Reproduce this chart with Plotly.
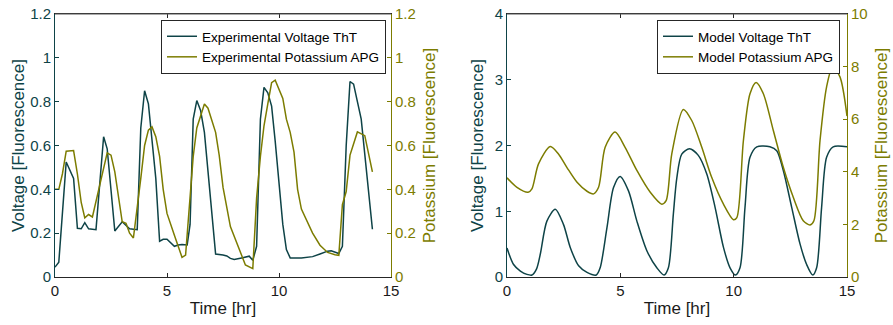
import plotly.graph_objects as go

# ---------------- data ----------------
exp_v_t = [0.0, 0.17, 0.5, 0.67, 0.83, 1.0, 1.17, 1.33, 1.5, 1.83, 2.17, 2.33, 2.67, 3.0, 3.17, 3.33,
           3.67, 3.83, 4.0, 4.17, 4.5, 4.67, 4.83, 5.0, 5.33, 5.5, 5.67, 5.9, 6.03, 6.17, 6.33, 6.5,
           6.67, 6.83, 7.0, 7.17, 7.5, 7.67, 7.83, 8.0, 8.33, 8.67, 8.83, 9.0, 9.17, 9.33, 9.5, 9.67,
           9.83, 10.0, 10.17, 10.33, 10.5, 11.0, 11.5, 11.83, 12.17, 12.33, 12.5, 12.67, 12.83, 13.0,
           13.17, 13.33, 13.5, 13.67, 14.17]
exp_v = [0.045, 0.068, 0.525, 0.49, 0.45, 0.222, 0.22, 0.248, 0.22, 0.216, 0.64, 0.585, 0.21, 0.252, 0.235, 0.22,
         0.216, 0.68, 0.85, 0.79, 0.45, 0.163, 0.172, 0.172, 0.14, 0.146, 0.148, 0.146, 0.24, 0.72, 0.805, 0.76,
         0.66, 0.48, 0.28, 0.105, 0.1, 0.096, 0.085, 0.08, 0.087, 0.095, 0.076, 0.14, 0.72, 0.865, 0.84, 0.78,
         0.62, 0.42, 0.24, 0.125, 0.087, 0.087, 0.093, 0.105, 0.118, 0.12, 0.113, 0.107, 0.14, 0.6,
         0.892, 0.88, 0.8, 0.72, 0.218]

exp_k_t = [0.0, 0.17, 0.33, 0.5, 0.83, 1.0, 1.17, 1.33, 1.5, 1.67, 2.0, 2.33, 2.5, 2.67, 3.0, 3.17, 3.33, 3.5,
           3.83, 4.0, 4.17, 4.33, 4.5, 4.67, 4.83, 5.0, 5.33, 5.67, 5.83, 6.0, 6.17, 6.33, 6.5, 6.67, 6.83,
           7.0, 7.17, 7.33, 7.5, 7.83, 8.17, 8.5, 8.83, 9.0, 9.17, 9.33, 9.5, 9.67, 9.83, 10.17, 10.33,
           10.5, 10.67, 10.83, 11.0, 11.17, 11.5, 11.83, 12.17, 12.5, 12.67, 12.83, 13.0, 13.17, 13.5,
           13.83, 14.17]
exp_k = [0.40, 0.40, 0.47, 0.574, 0.577, 0.47, 0.34, 0.27, 0.285, 0.274, 0.42, 0.566, 0.556, 0.48, 0.252, 0.245, 0.2, 0.178,
         0.45, 0.6, 0.67, 0.685, 0.64, 0.55, 0.40, 0.29, 0.19, 0.09, 0.1, 0.33, 0.55, 0.68, 0.74, 0.789, 0.77,
         0.72, 0.66, 0.556, 0.41, 0.23, 0.145, 0.055, 0.038, 0.36, 0.55, 0.69, 0.79, 0.887, 0.898, 0.815, 0.72,
         0.66, 0.57, 0.40, 0.31, 0.27, 0.2, 0.145, 0.112, 0.102, 0.099, 0.33, 0.39, 0.556, 0.662,
         0.645, 0.48]

mod_v_t = [0.0, 0.29, 0.59, 0.88, 1.1, 1.3, 1.47, 1.76, 2.13, 2.49, 2.79, 3.16, 3.53, 3.94, 4.11, 4.41, 4.7,
           4.99, 5.36, 5.73, 6.17, 6.61, 6.93, 7.12, 7.34, 7.49, 7.71, 8.05, 8.44, 8.81, 9.18, 9.55, 9.84,
           10.08, 10.28, 10.5, 10.72, 11.02, 11.6, 11.9, 12.19, 12.56, 12.93, 13.22, 13.49, 13.66, 13.88,
           14.1, 14.39, 15.0]
mod_v = [0.44, 0.19, 0.09, 0.04, 0.03, 0.12, 0.35, 0.85, 1.03, 0.80, 0.45, 0.17, 0.07, 0.03, 0.14, 0.75, 1.36,
         1.53, 1.31, 0.85, 0.40, 0.14, 0.03, 0.14, 0.96, 1.5, 1.87, 1.95, 1.85, 1.57, 1.06, 0.45, 0.14,
         0.03, 0.14, 1.06, 1.82, 1.98, 1.98, 1.92, 1.62, 1.06, 0.50, 0.19, 0.03, 0.14, 1.06,
         1.82, 1.98, 1.98]

mod_k_t = [0.0, 0.44, 0.93, 1.1, 1.39, 1.91, 2.27, 2.64, 3.09, 3.53, 3.82, 4.04, 4.33, 4.77, 5.21, 5.73, 6.32,
           6.83, 7.02, 7.27, 7.78, 8.15, 8.59, 9.03, 9.55, 9.99, 10.14, 10.43, 10.72, 10.99, 11.31, 11.75,
           12.19, 12.63, 13.07, 13.37, 13.54, 13.81, 14.1, 14.37, 14.69, 15.0]
mod_k = [3.77, 3.41, 3.22, 3.35, 4.30, 4.96, 4.68, 4.17, 3.60, 3.26, 3.16, 3.41, 4.93, 5.51, 4.93, 4.05, 3.22,
         2.77, 2.90, 4.68, 6.37, 5.95, 4.94, 3.79, 2.77, 2.18, 2.26, 5.19, 6.97, 7.40, 6.97, 5.57,
         4.17, 3.03, 2.14, 1.98, 2.14, 5.19, 7.23, 7.99, 7.61, 6.12]

x_ticks = [0, 5, 10, 15]

# ---------------- style ----------------
TEAL = "#0e4347"
OLIVE = "#7c7c00"
AXC = "#262626"
FONT = "Liberation Sans, Arial, Helvetica, sans-serif"
W, H = 893, 325

def px_x(p):
    return p / W

def px_y(p):
    return 1 - p / H

fig = go.Figure()
fig.add_trace(go.Scatter(x=exp_v_t, y=exp_v, mode="lines", name="Experimental Voltage ThT",
                         line=dict(color=TEAL, width=1.5), xaxis="x", yaxis="y", legend="legend"))
fig.add_trace(go.Scatter(x=exp_k_t, y=exp_k, mode="lines", name="Experimental Potassium APG",
                         line=dict(color=OLIVE, width=1.5), xaxis="x", yaxis="y2", legend="legend"))
fig.add_trace(go.Scatter(x=mod_v_t, y=mod_v, mode="lines", name="Model Voltage ThT",
                         line=dict(color=TEAL, width=1.5, shape="spline", smoothing=0.8),
                         xaxis="x2", yaxis="y3", legend="legend2"))
fig.add_trace(go.Scatter(x=mod_k_t, y=mod_k, mode="lines", name="Model Potassium APG",
                         line=dict(color=OLIVE, width=1.5, shape="spline", smoothing=0.8),
                         xaxis="x2", yaxis="y4", legend="legend2"))

ydom = [px_y(277), px_y(14)]
titlefont = 17
xdom1 = [px_x(55), px_x(391)]
xdom2 = [px_x(507), px_x(847)]

def xax(domain, anchor):
    return dict(domain=domain, anchor=anchor, range=[0, 15], tickvals=x_ticks,
                ticks="inside", ticklen=4, tickcolor=AXC, showline=True, linecolor=AXC,
                linewidth=1, mirror="ticks", showgrid=False, zeroline=False, automargin=False,
                ticklabeloverflow="allow",
                tickfont=dict(family=FONT, size=15, color="#1a1a1a"),
                title=dict(text="Time [hr]", font=dict(family=FONT, size=titlefont, color="#1a1a1a"),
                           standoff=4))

def yax(rng, dtick, color, title, side="left", overlay=None, anchor=None, standoff=1):
    d = dict(domain=ydom, range=rng, dtick=dtick, tick0=0, ticks="inside", ticklen=4,
             tickcolor=color, showline=True, linecolor=color, linewidth=1, showgrid=False,
             zeroline=False, side=side, automargin=False, ticklabeloverflow="allow",
             tickfont=dict(family=FONT, size=15, color=color),
             title=dict(text=title, font=dict(family=FONT, size=titlefont, color=color), standoff=standoff))
    if overlay:
        d["overlaying"] = overlay
    if anchor:
        d["anchor"] = anchor
    return d

# top frame lines of each axes box (MATLAB "box on")
top_lines = [dict(type="line", xref="paper", yref="paper", x0=d[0], x1=d[1], y0=ydom[1], y1=ydom[1],
                  line=dict(color="#555555", width=1), layer="above") for d in (xdom1, xdom2)]

fig.update_layout(
    width=W, height=H,
    margin=dict(l=0, r=0, t=0, b=0, autoexpand=False),
    paper_bgcolor="white", plot_bgcolor="white",
    font=dict(family=FONT),
    xaxis=xax(xdom1, "y"),
    xaxis2=xax(xdom2, "y3"),
    yaxis=yax([0, 1.2], 0.2, TEAL, "Voltage [Fluorescence]", anchor="x", standoff=1),
    yaxis2=yax([0, 1.2], 0.2, OLIVE, "Potassium [Fluorescence]", side="right", overlay="y", anchor="x", standoff=8),
    yaxis3=yax([0, 4], 1, TEAL, "Voltage [Fluorescence]", anchor="x2", standoff=6),
    yaxis4=yax([0, 10], 2, OLIVE, "Potassium [Fluorescence]", side="right", overlay="y3", anchor="x2", standoff=8),
    legend=dict(x=px_x(386), y=px_y(20), xanchor="right", yanchor="top",
                bgcolor="white", bordercolor=AXC, borderwidth=1,
                font=dict(family=FONT, size=13.5, color="#000000"),
                tracegroupgap=0, itemwidth=30),
    legend2=dict(x=px_x(840), y=px_y(20), xanchor="right", yanchor="top",
                 bgcolor="white", bordercolor=AXC, borderwidth=1,
                 font=dict(family=FONT, size=13.5, color="#000000"),
                 tracegroupgap=0, itemwidth=30),
    shapes=top_lines,
    showlegend=True,
)

fig.write_html("out.html", config={"displayModeBar": False, "staticPlot": True},
               post_script="document.body.style.margin='0';document.body.style.overflow='hidden';")
